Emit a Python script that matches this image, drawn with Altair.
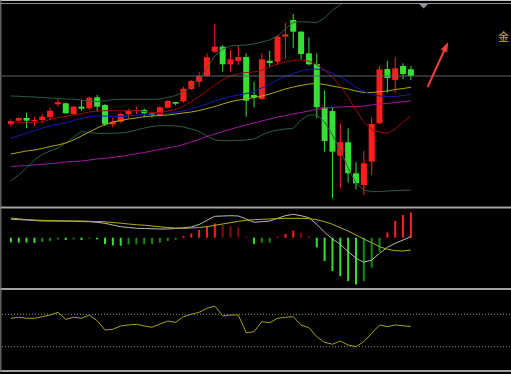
import altair as alt
import pandas as pd

# ---------------- data ----------------
open_ = [1275.7, 1279.3, 1282.0, 1278.7, 1280.0, 1282.7, 1295.7, 1296.7, 1286.0, 1293.3,
         1291.7, 1302.7, 1295.0, 1275.5, 1278.3, 1285.7, 1289.0, 1290.0, 1286.7, 1285.0,
         1292.3, 1298.0, 1298.7, 1311.0, 1318.3, 1324.0, 1348.3, 1353.3, 1335.7, 1339.0,
         1343.0, 1305.0, 1301.0, 1339.3, 1338.3, 1363.3, 1380.0, 1368.3, 1346.7, 1336.0,
         1292.7, 1289.0, 1244.3, 1257.7, 1226.7, 1215.0, 1238.3, 1276.7, 1331.0, 1320.0,
         1334.0, 1330.7]
close = [1279.0, 1282.0, 1279.3, 1280.0, 1283.3, 1289.3, 1297.7, 1286.7, 1293.3, 1291.3,
         1302.3, 1293.3, 1275.7, 1278.3, 1286.0, 1289.0, 1290.0, 1286.7, 1285.3, 1292.7,
         1299.0, 1296.3, 1311.3, 1319.0, 1324.0, 1342.7, 1353.3, 1335.7, 1340.7, 1343.0,
         1299.3, 1302.3, 1340.7, 1337.0, 1363.3, 1365.7, 1368.3, 1346.0, 1335.7, 1292.7,
         1259.0, 1248.3, 1257.7, 1226.7, 1216.7, 1236.7, 1276.0, 1330.7, 1322.0, 1331.7,
         1326.0, 1324.0]
high = [1280.7, 1282.7, 1287.3, 1283.0, 1286.0, 1292.3, 1301.3, 1297.3, 1294.0, 1300.0,
        1303.3, 1305.0, 1296.0, 1282.5, 1287.3, 1291.3, 1293.3, 1291.7, 1288.3, 1294.0,
        1300.0, 1298.0, 1313.3, 1320.0, 1328.3, 1346.7, 1376.0, 1355.0, 1350.0, 1354.3,
        1346.7, 1318.3, 1346.7, 1349.3, 1365.0, 1377.3, 1386.0, 1369.0, 1362.7, 1346.7,
        1309.3, 1292.7, 1276.7, 1271.7, 1237.7, 1249.3, 1282.7, 1334.0, 1339.0, 1342.7,
        1336.7, 1334.0]
low = [1273.3, 1278.3, 1271.7, 1274.0, 1276.7, 1280.0, 1293.3, 1286.0, 1284.7, 1289.3,
       1290.0, 1288.3, 1274.0, 1272.7, 1276.7, 1281.7, 1286.0, 1282.7, 1282.7, 1283.3,
       1291.3, 1294.7, 1297.3, 1310.0, 1313.3, 1323.3, 1347.0, 1328.3, 1328.3, 1335.0,
       1283.3, 1292.7, 1300.0, 1332.7, 1335.0, 1340.7, 1351.7, 1340.7, 1334.3, 1281.7,
       1248.3, 1201.7, 1211.7, 1217.3, 1210.7, 1205.0, 1225.0, 1276.0, 1307.3, 1307.3,
       1320.7, 1320.0]

ma_red = [1278.3, 1277.7, 1277.3, 1277.5, 1278.3, 1280.5, 1282.5, 1283.7, 1285.0, 1286.3,
          1288.0, 1289.0, 1289.3, 1289.3, 1289.3, 1289.3, 1289.3, 1288.5, 1287.5, 1287.5,
          1289.0, 1290.5, 1294.0, 1298.5, 1303.5, 1309.0, 1315.0, 1320.0, 1324.0, 1326.5,
          1327.5, 1328.0, 1330.0, 1333.3, 1336.0, 1338.0, 1339.5, 1340.0, 1339.0, 1335.5,
          1330.0, 1323.0, 1314.0, 1303.0, 1290.0, 1278.0, 1270.5, 1268.0, 1266.7, 1271.0,
          1278.0, 1284.3]
ma_blue = [1261.5, 1264.5, 1267.0, 1269.5, 1272.0, 1274.0, 1275.7, 1277.3, 1279.5, 1281.7,
           1283.3, 1284.2, 1284.0, 1283.3, 1283.5, 1284.0, 1285.0, 1285.5, 1286.0, 1286.3,
           1286.7, 1287.7, 1289.0, 1291.0, 1293.5, 1296.0, 1299.0, 1301.5, 1303.5, 1305.0,
           1306.5, 1308.5, 1312.0, 1316.0, 1320.0, 1323.5, 1326.5, 1329.0, 1330.7, 1331.0,
           1329.5, 1327.0, 1323.0, 1318.5, 1312.7, 1308.5, 1305.5, 1304.0, 1303.3, 1303.3,
           1304.5, 1305.7]
ma_yellow = [1246.0, 1247.5, 1249.0, 1250.0, 1251.5, 1253.5, 1255.0, 1257.0, 1260.0, 1264.0,
             1268.0, 1272.0, 1275.5, 1278.0, 1279.5, 1281.0, 1282.0, 1283.3, 1284.0, 1284.5,
             1285.0, 1286.0, 1287.0, 1288.0, 1289.5, 1291.5, 1293.5, 1296.0, 1298.3, 1300.0,
             1301.0, 1302.5, 1304.0, 1306.0, 1308.5, 1311.0, 1313.0, 1314.5, 1316.0, 1316.5,
             1315.5, 1314.0, 1312.5, 1311.0, 1309.0, 1307.5, 1307.5, 1308.3, 1309.0, 1310.5,
             1311.5, 1312.7]
ma_magenta = [1233.5, 1234.0, 1234.5, 1235.0, 1235.7, 1236.3, 1237.0, 1238.0, 1238.5, 1239.0,
              1240.0, 1241.0, 1241.7, 1242.7, 1243.7, 1245.0, 1246.3, 1247.5, 1249.0, 1250.5,
              1252.0, 1253.5, 1255.5, 1258.0, 1260.5, 1263.5, 1266.0, 1268.5, 1270.7, 1273.0,
              1275.0, 1277.0, 1279.0, 1281.0, 1283.0, 1284.5, 1286.0, 1287.5, 1289.0, 1290.7,
              1292.0, 1292.5, 1293.0, 1293.3, 1293.5, 1294.0, 1295.0, 1296.0, 1296.5, 1297.5,
              1298.3, 1299.0]
boll_upper = [1304.0, 1303.7, 1303.3, 1303.0, 1302.5, 1302.0, 1301.5, 1301.0, 1300.7, 1300.0,
              1299.0, 1298.5, 1299.0, 1300.5, 1300.7, 1300.7, 1300.7, 1300.7, 1300.7, 1301.0,
              1302.5, 1304.5, 1308.0, 1313.0, 1320.0, 1332.0, 1344.0, 1351.0, 1354.0, 1354.5,
              1355.0, 1356.0, 1358.0, 1360.0, 1364.0, 1371.0, 1377.5, 1378.3, 1378.0, 1377.3,
              1382.0, 1390.0, 1395.0, 1403.0, 1410.0, 1414.0, 1417.0, 1418.0, 1418.0, 1417.0,
              1416.0, 1415.0]
boll_lower = [1219.0, 1225.0, 1232.0, 1240.0, 1245.5, 1249.0, 1252.0, 1257.0, 1263.0, 1268.5,
              1267.5, 1266.7, 1266.7, 1266.7, 1267.0, 1268.0, 1270.0, 1272.0, 1273.5, 1274.3,
              1274.3, 1274.0, 1273.0, 1271.0, 1268.5, 1264.0, 1260.0, 1259.3, 1259.3, 1259.5,
              1260.0, 1261.0, 1265.0, 1268.3, 1270.0, 1271.0, 1271.7, 1280.0, 1285.0, 1285.0,
              1278.0, 1265.0, 1250.0, 1232.0, 1217.0, 1210.0, 1208.3, 1208.5, 1209.0, 1209.3,
              1209.7, 1210.0]
last_price = 1324.0

macd_hist = [-0.48, -0.49, -0.50, -0.53, -0.43, -0.33, -0.17, -0.23, -0.17, -0.23,
             -0.10, -0.17, -0.63, -0.78, -0.80, -0.68, -0.67, -0.66, -0.63, -0.50,
             -0.33, -0.20, 0.17, 0.43, 0.77, 1.10, 1.43, 1.27, 1.17, 1.03,
             0.10, -0.63, -0.50, -0.49, 0.10, 0.37, 0.70, 0.50, 0.17, -0.97,
             -2.33, -3.33, -3.83, -4.33, -4.67, -4.33, -3.00, -1.40, 0.53, 1.67,
             2.27, 2.53]
macd_dif = [1.85, 1.81, 1.77, 1.72, 1.67, 1.67, 1.67, 1.67, 1.65, 1.62,
            1.60, 1.54, 1.44, 1.27, 1.10, 1.02, 0.94, 0.92, 0.89, 0.87,
            0.87, 0.92, 1.00, 1.07, 1.32, 1.74, 2.14, 2.17, 2.20, 2.17,
            1.87, 1.54, 1.60, 1.67, 1.94, 2.20, 2.34, 2.20, 2.00, 1.34,
            0.54, -0.13, -0.66, -1.40, -2.06, -2.46, -2.23, -1.56, -0.96, -0.56,
            -0.23, 0.10]
macd_dea = [1.97, 1.89, 1.82, 1.77, 1.74, 1.71, 1.69, 1.67, 1.67, 1.67,
            1.64, 1.62, 1.59, 1.52, 1.45, 1.37, 1.30, 1.25, 1.17, 1.09,
            1.02, 0.97, 0.94, 0.97, 1.02, 1.10, 1.24, 1.37, 1.50, 1.64,
            1.74, 1.80, 1.84, 1.87, 1.90, 1.94, 1.94, 1.94, 1.90, 1.80,
            1.60, 1.34, 1.00, 0.67, 0.27, -0.13, -0.50, -0.90, -1.16, -1.30,
            -1.33, -1.23]

rsi = [65.1, 66.3, 65.1, 65.1, 67.0, 69.1, 72.5, 63.8, 66.3, 65.1,
       69.1, 62.1, 50.6, 51.5, 55.6, 56.8, 57.7, 55.6, 54.0, 58.0,
       61.7, 60.1, 67.0, 70.0, 72.5, 77.4, 80.2, 67.9, 69.1, 69.1,
       47.3, 48.5, 60.9, 59.6, 65.1, 66.3, 67.0, 56.8, 53.5, 42.3,
       35.4, 33.0, 37.0, 32.1, 30.0, 36.2, 46.5, 56.8, 54.7, 56.8,
       55.9, 54.7]
rsi_levels = [70, 30]

# annotation (hand-drawn arrow, scroll marker, label)
arrow_t = [53.125, 55.49]
arrow_p = [1313.0, 1353.5]
marker_t = [52.625]
marker_p = [1394.0]

W, H = 511, 374
n = len(open_)

RED, GREEN = "#ff1e1e", "#33e033"
DRED, DGREEN = "#8e0a0a", "#138a13"

df = pd.DataFrame({
    "t": list(range(n)), "open": open_, "close": close, "high": high, "low": low,
    "ma_red": ma_red, "ma_blue": ma_blue, "ma_yellow": ma_yellow, "ma_magenta": ma_magenta,
    "up": boll_upper, "lo": boll_lower,
    "hist": macd_hist, "dif": macd_dif, "dea": macd_dea, "rsi": rsi,
})
df["zero"] = 0.0
df["ccol"] = [RED if c >= o else GREEN for o, c in zip(open_, close)]
hcols = []
prev = None
for v in macd_hist:
    if v >= 0:
        hcols.append(RED if (prev is None or v >= prev) else DRED)
    else:
        hcols.append(GREEN if (prev is None or v <= prev) else DGREEN)
    prev = v
df["hcol"] = hcols

xs = alt.Scale(domain=[-0.75, 63.125], nice=False, zero=False)
yP = alt.Scale(domain=[1193, 1396], range=[207, 4], nice=False, zero=False)
yM = alt.Scale(domain=[-5.13, 3.07], range=[289, 207], nice=False, zero=False)
yR = alt.Scale(domain=[0, 100], range=[371, 290], nice=False, zero=False)

X = alt.X("t:Q", scale=xs, axis=None)
base = alt.Chart(df)

# ---------------- price panel ----------------
wicks = base.mark_rule(strokeWidth=1).encode(
    x=X, y=alt.Y("low:Q", scale=yP, axis=None), y2="high:Q",
    color=alt.Color("ccol:N", scale=None))
bodies = base.mark_bar(size=6).encode(
    x=X, y=alt.Y("open:Q", scale=yP, axis=None), y2="close:Q",
    color=alt.Color("ccol:N", scale=None))

def pline(field, col, width=1.0):
    return base.mark_line(color=col, strokeWidth=width, clip=True).encode(
        x=X, y=alt.Y(f"{field}:Q", scale=yP, axis=None))

lines = [
    pline("up", "#2b5e3f"), pline("lo", "#2b5e3f"),
    pline("ma_magenta", "#a414a4"), pline("ma_yellow", "#aaaa12"),
    pline("ma_blue", "#1818b4"), pline("ma_red", "#9a0c0c"),
]
pline_df = pd.DataFrame({"p": [last_price]})
price_line = alt.Chart(pline_df).mark_rule(color="#5d6573", strokeWidth=1).encode(
    y=alt.Y("p:Q", scale=yP, axis=None), x=alt.value(2), x2=alt.value(W))

arrow_df = pd.DataFrame({"t": arrow_t, "p": arrow_p})
arrow_line = alt.Chart(arrow_df).mark_line(color="#f03c3c", strokeWidth=2).encode(
    x=X, y=alt.Y("p:Q", scale=yP, axis=None))
arrow_head = alt.Chart(arrow_df.tail(1)).mark_point(
    shape="M0,-1L0.7,1L-0.7,1Z", size=100, filled=True, opacity=1,
    color="#f03c3c", angle=25, strokeWidth=0).encode(
    x=X, y=alt.Y("p:Q", scale=yP, axis=None))
marker_df = pd.DataFrame({"t": marker_t, "p": marker_p})
marker = alt.Chart(marker_df).mark_point(
    shape="M-1,-0.5L1,-0.5L0,0.55Z", size=81, filled=True, opacity=1,
    color="#8d97a6", strokeWidth=0).encode(
    x=X, y=alt.Y("p:Q", scale=yP, axis=None))

price = alt.layer(wicks, bodies, *lines, price_line, arrow_line, arrow_head, marker)

# ---------------- MACD panel ----------------
hbars = base.mark_bar(size=2).encode(
    x=X, y=alt.Y("hist:Q", scale=yM, axis=None), y2="zero:Q",
    color=alt.Color("hcol:N", scale=None))
dif = base.mark_line(color="#b9b9b9", strokeWidth=1).encode(
    x=X, y=alt.Y("dif:Q", scale=yM, axis=None))
dea = base.mark_line(color="#b0b01c", strokeWidth=1).encode(
    x=X, y=alt.Y("dea:Q", scale=yM, axis=None))
macd = alt.layer(hbars, dif, dea)

# ---------------- RSI panel ----------------
lev_df = pd.DataFrame({"v": rsi_levels})
levels = alt.Chart(lev_df).mark_rule(color="#8a8a8a", strokeWidth=1, strokeDash=[1, 2]).encode(
    y=alt.Y("v:Q", scale=yR, axis=None), x=alt.value(2), x2=alt.value(W))
rsi_line = base.mark_line(color="#a3a312", strokeWidth=1).encode(
    x=X, y=alt.Y("rsi:Q", scale=yR, axis=None))
rsi_panel = alt.layer(levels, rsi_line)

# ---------------- frame ----------------
one = pd.DataFrame({"k": [0]})
cover = alt.Chart(one).mark_rect(color="#000000").encode(
    x=alt.value(0), x2=alt.value(W), y=alt.value(0), y2=alt.value(3))
def hsep(yv, col, w):
    return alt.Chart(one).mark_rule(color=col, strokeWidth=w).encode(
        x=alt.value(0), x2=alt.value(W), y=alt.value(yv))
frame = [
    cover,
    hsep(0.5, "#c4c4c4", 1), hsep(3.5, "#8e8e8e", 1.2),
    hsep(207.5, "#a2a2a2", 2), hsep(289, "#a2a2a2", 2), hsep(371, "#a2a2a2", 2),
    alt.Chart(one).mark_rule(color="#7a7a7a", strokeWidth=1.2).encode(
        x=alt.value(0.8), y=alt.value(0), y2=alt.value(372)),
    alt.Chart(one).mark_text(text="金", align="left", baseline="middle", fontSize=11,
                             font="Noto Sans CJK SC", color="#cdb800").encode(
        x=alt.value(498), y=alt.value(38)),
]

chart = alt.layer(price, macd, rsi_panel, *frame).resolve_scale(y="independent").properties(
    width=W, height=H, background="#000000", padding=0,
    autosize=alt.AutoSizeParams(type="none"),
).configure_view(stroke=None)

chart.save("out.html", embed_options={"renderer": "svg", "actions": False})
